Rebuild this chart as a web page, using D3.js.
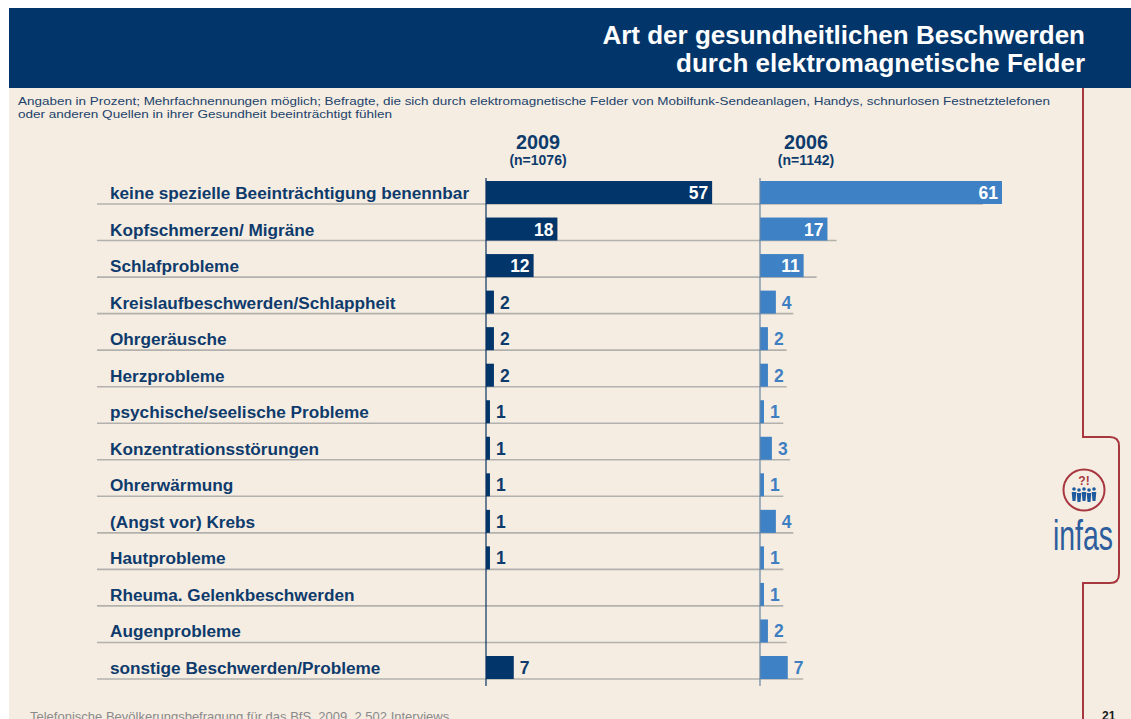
<!DOCTYPE html>
<html lang="de">
<head>
<meta charset="utf-8">
<title>Art der gesundheitlichen Beschwerden</title>
<script src="https://d3js.org/d3.v7.min.js"></script>
<style>
  body { margin: 0; background: #fff; }
  svg { display: block; font-family: "Liberation Sans", Arial, sans-serif; }
</style>
</head>
<body>
<svg width="1131" height="719"></svg>
<script>
// data
var categories = [
  "keine spezielle Beeinträchtigung benennbar",
  "Kopfschmerzen/ Migräne",
  "Schlafprobleme",
  "Kreislaufbeschwerden/Schlappheit",
  "Ohrgeräusche",
  "Herzprobleme",
  "psychische/seelische Probleme",
  "Konzentrationsstörungen",
  "Ohrerwärmung",
  "(Angst vor) Krebs",
  "Hautprobleme",
  "Rheuma. Gelenkbeschwerden",
  "Augenprobleme",
  "sonstige Beschwerden/Probleme"
];
var values2009 = [57, 18, 12, 2, 2, 2, 1, 1, 1, 1, 1, null, null, 7];
var values2006 = [61, 17, 11, 4, 2, 2, 1, 3, 1, 4, 1, 1, 2, 7];
var seriesLabels = ["2009", "2006"];
var sampleLabels = ["(n=1076)", "(n=1142)"];

var titleLines = ["Art der gesundheitlichen Beschwerden", "durch elektromagnetische Felder"];
var subtitleLines = [
  "Angaben in Prozent; Mehrfachnennungen möglich; Befragte, die sich durch elektromagnetische Felder von Mobilfunk-Sendeanlagen, Handys, schnurlosen Festnetztelefonen",
  "oder anderen Quellen in ihrer Gesundheit beeinträchtigt fühlen"
];
var footerText = "Telefonische Bevölkerungsbefragung für das BfS. 2009. 2.502 Interviews";
var pageNumber = "21";

var navy = "#02356A", blue = "#3E81C4", textNavy = "#0E3B6C", bg = "#F5EDE2", red = "#A8383F";

var svg = d3.select("svg");

// page background + header band
svg.append("rect").attr("x", 9).attr("y", 8).attr("width", 1122).attr("height", 711).attr("fill", bg);
svg.append("rect").attr("x", 9).attr("y", 8).attr("width", 1122).attr("height", 80).attr("fill", navy);

svg.selectAll("text.title").data(titleLines).enter().append("text")
  .attr("class", "title")
  .attr("x", 1085).attr("y", function(d, i) { return 44 + i * 28; })
  .attr("text-anchor", "end")
  .attr("fill", "#fff").attr("font-weight", "bold").attr("font-size", 26)
  .text(function(d) { return d; });

// subtitle squeezed to the width it has in the original
var subWidths = [1032, 374];
svg.selectAll("text.sub").data(subtitleLines).enter().append("text")
  .attr("class", "sub")
  .attr("x", 18).attr("y", function(d, i) { return 105 + i * 13; })
  .attr("fill", "#22426a").attr("font-size", 11.5)
  .attr("textLength", function(d, i) { return subWidths[i]; })
  .attr("lengthAdjust", "spacingAndGlyphs")
  .text(function(d) { return d; });

// red side line with bracket
svg.append("path")
  .attr("d", "M1083,88 V437 H1110 Q1119,437 1119,446 V574 Q1119,583 1110,583 H1083 V719")
  .attr("fill", "none").attr("stroke", red).attr("stroke-width", 2);

// logo
var logo = svg.append("g").attr("transform", "translate(1084,490)");
logo.append("circle").attr("r", 20.5).attr("fill", "none").attr("stroke", red).attr("stroke-width", 2);
logo.append("text").attr("y", -5).attr("text-anchor", "middle").attr("fill", red)
  .attr("font-weight", "bold").attr("font-size", 12).text("?!");
[-10, -5, 0, 5, 10].forEach(function(dx, i) {
  var dy = (i % 2) ? 1 : 0;
  logo.append("circle").attr("cx", dx).attr("cy", -1 + dy).attr("r", 1.8).attr("fill", "#1f5a9e");
  logo.append("path")
    .attr("d", "M" + (dx - 2.3) + "," + (2 + dy) + " h4.6 l-0.8,9 h-3 z")
    .attr("fill", "#1f5a9e");
});
svg.append("text").attr("x", 1053).attr("y", 550)
  .attr("textLength", 60).attr("lengthAdjust", "spacingAndGlyphs")
  .attr("fill", "#2d5d9c").attr("font-size", 42)
  .text("infas");

// scales
var y = d3.scaleBand().domain(categories).range([167.46, 679]);
var x09 = d3.scaleLinear().domain([0, 61]).range([486, 728]);
var x06 = d3.scaleLinear().domain([0, 61]).range([760, 1002]);
var lineEnd = d3.scaleLinear().domain([0, 61]).range([780, 983]);
var barH = 23;

var rows = categories.map(function(c, i) {
  return { cat: c, v09: values2009[i], v06: values2006[i] };
});

function rowBottom(d) { return y(d.cat) + y.bandwidth(); }

// separators
svg.append("g").selectAll("line").data(rows).enter().append("line")
  .attr("x1", 97).attr("x2", function(d) { return lineEnd(d.v06); })
  .attr("y1", rowBottom).attr("y2", rowBottom)
  .attr("stroke", "#b3b1ad").attr("stroke-width", 1.6);

// category labels
svg.append("g").selectAll("text").data(rows).enter().append("text")
  .attr("x", 110).attr("y", function(d) { return rowBottom(d) - 5; })
  .attr("fill", textNavy).attr("font-weight", "bold").attr("font-size", 17.2)
  .text(function(d) { return d.cat; });

// column headings
var heads = [{ x: 538, s: seriesLabels[0], n: sampleLabels[0] }, { x: 806, s: seriesLabels[1], n: sampleLabels[1] }];
heads.forEach(function(h) {
  svg.append("text").attr("x", h.x).attr("y", 149).attr("text-anchor", "middle")
    .attr("fill", textNavy).attr("font-weight", "bold").attr("font-size", 19.8).text(h.s);
  svg.append("text").attr("x", h.x).attr("y", 165).attr("text-anchor", "middle")
    .attr("fill", textNavy).attr("font-weight", "bold").attr("font-size", 14).text(h.n);
});

// bars
function drawSeries(key, x, color, outColor, axisColor) {
  var data = rows.filter(function(d) { return d[key] != null; });
  var g = svg.append("g");
  g.selectAll("rect").data(data).enter().append("rect")
    .attr("x", x(0)).attr("y", function(d) { return rowBottom(d) - barH; })
    .attr("width", function(d) { return x(d[key]) - x(0); })
    .attr("height", barH).attr("fill", color);
  g.selectAll("text").data(data).enter().append("text")
    .attr("x", function(d) { return d[key] >= 10 ? x(d[key]) - 4 : x(d[key]) + 6; })
    .attr("y", function(d) { return rowBottom(d) - 5; })
    .attr("text-anchor", function(d) { return d[key] >= 10 ? "end" : "start"; })
    .attr("fill", function(d) { return d[key] >= 10 ? "#fff" : outColor; })
    .attr("font-weight", "bold").attr("font-size", 17.5)
    .text(function(d) { return d[key]; });
  svg.append("line").attr("x1", x(0)).attr("x2", x(0)).attr("y1", 178).attr("y2", 686)
    .attr("stroke", axisColor).attr("stroke-width", 1.2);
}
drawSeries("v09", x09, navy, textNavy, "#0b3160");
drawSeries("v06", x06, blue, "#3f7fc1", "#6a86a6");

// footer
svg.append("text").attr("x", 30).attr("y", 721).attr("fill", "#8a8a8a").attr("font-size", 13)
  .text(footerText);
svg.append("text").attr("x", 1102).attr("y", 720).attr("fill", "#1a1a1a")
  .attr("font-weight", "bold").attr("font-size", 12).text(pageNumber);
</script>
</body>
</html>
